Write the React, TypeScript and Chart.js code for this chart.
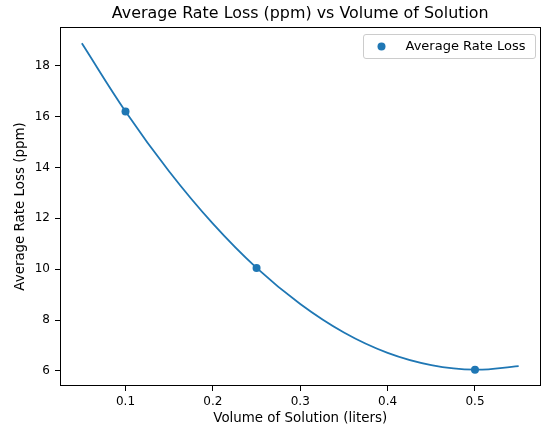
import React, { useEffect, useRef } from "react";
import { Chart, registerables } from "chart.js";

Chart.register(...registerables);

const TITLE = "Average Rate Loss (ppm) vs Volume of Solution";
const X_LABEL = "Volume of Solution (liters)";
const Y_LABEL = "Average Rate Loss (ppm)";
const SERIES_NAME = "Average Rate Loss";

// measured points
const VOLUMES = [0.1, 0.25, 0.5];
const RATE_LOSS = [16.2, 10.05, 6.05];

// fitted curve
const CURVE_VOLUMES = [0.05, 0.1, 0.15, 0.2, 0.25, 0.3, 0.35, 0.4, 0.45, 0.5, 0.55];
const CURVE_RATE_LOSS = [18.88, 16.2, 13.84, 11.79, 10.05, 8.63, 7.51, 6.71, 6.23, 6.05, 6.19];

const X_TICKS = [0.1, 0.2, 0.3, 0.4, 0.5];
const Y_TICKS = [6, 8, 10, 12, 14, 16, 18];

const BLUE = "#1f77b4";
const FONT = "DejaVu Sans";

const framePlugin = {
  id: "frameAndLegend",
  afterDraw(chart: any) {
    const { ctx, chartArea } = chart;
    const l = Math.round(chartArea.left) + 0.5;
    const t = Math.round(chartArea.top) + 0.5;
    const r = Math.round(chartArea.right) - 0.5;
    const b = Math.round(chartArea.bottom) - 0.5;
    ctx.save();
    ctx.strokeStyle = "#000";
    ctx.lineWidth = 1;
    ctx.strokeRect(l, t, r - l, b - t);

    // title centred on the plot area
    ctx.fillStyle = "#000";
    ctx.font = `15.9px "${FONT}"`;
    ctx.textAlign = "center";
    ctx.textBaseline = "middle";
    ctx.fillText(TITLE, (chartArea.left + chartArea.right) / 2, 13.5);

    // legend
    const bw = 172;
    const bh = 24;
    const bx = Math.round(chartArea.right) - 6 - bw + 0.5;
    const by = Math.round(chartArea.top) + 7 + 0.5;
    const rad = 2.5;
    ctx.beginPath();
    ctx.moveTo(bx + rad, by);
    ctx.lineTo(bx + bw - rad, by);
    ctx.arcTo(bx + bw, by, bx + bw, by + rad, rad);
    ctx.lineTo(bx + bw, by + bh - rad);
    ctx.arcTo(bx + bw, by + bh, bx + bw - rad, by + bh, rad);
    ctx.lineTo(bx + rad, by + bh);
    ctx.arcTo(bx, by + bh, bx, by + bh - rad, rad);
    ctx.lineTo(bx, by + rad);
    ctx.arcTo(bx, by, bx + rad, by, rad);
    ctx.closePath();
    ctx.fillStyle = "rgba(255,255,255,0.8)";
    ctx.fill();
    ctx.strokeStyle = "#cccccc";
    ctx.stroke();

    ctx.fillStyle = BLUE;
    ctx.beginPath();
    ctx.arc(bx + 18, by + bh / 2, 4, 0, Math.PI * 2);
    ctx.fill();

    ctx.fillStyle = "#000";
    ctx.font = `13px "${FONT}"`;
    ctx.textBaseline = "middle";
    ctx.textAlign = "left";
    ctx.fillText(SERIES_NAME, bx + 42, by + bh / 2 + 0.5);
    ctx.restore();
  },
};

export default function App() {
  const ref = useRef<HTMLCanvasElement | null>(null);

  useEffect(() => {
    document.body.style.margin = "0";
    const canvas = ref.current;
    if (!canvas) return;
    const chart = new Chart(canvas, {
      type: "scatter",
      data: {
        datasets: [
          {
            label: "fit",
            data: CURVE_VOLUMES.map((x, i) => ({ x, y: CURVE_RATE_LOSS[i] })),
            showLine: true,
            borderColor: BLUE,
            backgroundColor: BLUE,
            borderWidth: 1.8,
            pointRadius: 0,
            pointHoverRadius: 0,
            tension: 0.4,
            fill: false,
          },
          {
            label: SERIES_NAME,
            data: VOLUMES.map((x, i) => ({ x, y: RATE_LOSS[i] })),
            backgroundColor: BLUE,
            borderColor: BLUE,
            borderWidth: 0,
            pointRadius: 4,
            showLine: false,
          },
        ],
      },
      options: {
        responsive: false,
        animation: false,
        devicePixelRatio: 1,
        layout: { autoPadding: false, padding: { top: 27, left: 0, right: 1.5, bottom: 0 } },
        plugins: {
          legend: { display: false },
          tooltip: { enabled: false },
          title: { display: false },
        },
        scales: {
          x: {
            type: "linear",
            min: 0.025,
            max: 0.575,
            afterBuildTicks: (s: any) => {
              s.ticks = X_TICKS.map((v) => ({ value: v }));
            },
            afterFit: (s: any) => {
              s.height = 44;
              s.paddingLeft = 0;
              s.paddingRight = 0;
            },
            ticks: {
              autoSkip: false,
              maxRotation: 0,
              color: "#000",
              padding: 4,
              font: { family: FONT, size: 12 },
              callback: (v: any) => Number(v).toFixed(1),
            },
            grid: {
              drawOnChartArea: false,
              drawTicks: true,
              tickLength: 5,
              color: "#000",
            },
            border: { display: false },
            title: {
              display: true,
              text: X_LABEL,
              color: "#000",
              font: { family: FONT, size: 13.4, lineHeight: 1.2 },
              padding: { top: 0, bottom: 3.5 },
            },
          },
          y: {
            type: "linear",
            min: 5.41,
            max: 19.52,
            afterBuildTicks: (s: any) => {
              s.ticks = Y_TICKS.map((v) => ({ value: v }));
            },
            afterFit: (s: any) => {
              s.width = 60;
              s.paddingTop = 0;
              s.paddingBottom = 0;
            },
            ticks: {
              autoSkip: false,
              color: "#000",
              padding: 5,
              font: { family: FONT, size: 12 },
              callback: (v: any) => String(v),
            },
            grid: {
              drawOnChartArea: false,
              drawTicks: true,
              tickLength: 5,
              color: "#000",
            },
            border: { display: false },
            title: {
              display: true,
              text: Y_LABEL,
              color: "#000",
              font: { family: FONT, size: 13.4, lineHeight: 1.2 },
              padding: { top: 12, bottom: 0 },
            },
          },
        },
      },
      plugins: [framePlugin],
    } as any);
    return () => chart.destroy();
  }, []);

  return (
    <div style={{ position: "absolute", left: 0, top: 0, width: 542, height: 430, background: "#fff" }}>
      <canvas ref={ref} width={542} height={430} style={{ display: "block", width: 542, height: 430 }} />
    </div>
  );
}
